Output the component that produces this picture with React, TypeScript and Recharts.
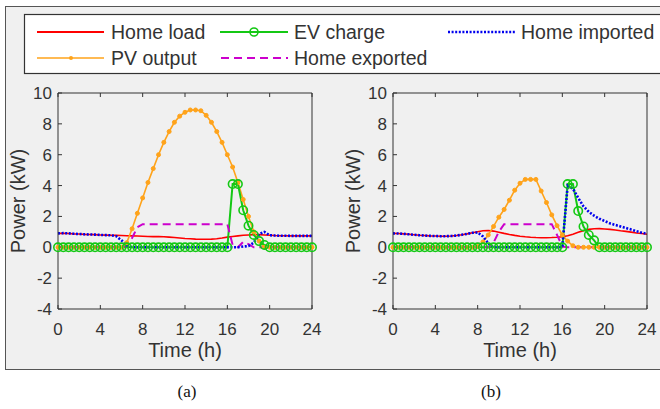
import { LineChart, Line, XAxis, YAxis } from 'recharts';

// time of day, half-hour steps
const hours = [
  0, 0.5, 1, 1.5, 2, 2.5, 3, 3.5, 4, 4.5, 5, 5.5, 6, 6.5, 7, 7.5,
  8, 8.5, 9, 9.5, 10, 10.5, 11, 11.5, 12, 12.5, 13, 13.5, 14, 14.5, 15, 15.5,
  16, 16.5, 17, 17.5, 18, 18.5, 19, 19.5, 20, 20.5, 21, 21.5, 22, 22.5, 23, 23.5, 24,
];
const timeTicks = [0, 4, 8, 12, 16, 20, 24];
const powerTicks = [-4, -2, 0, 2, 4, 6, 8, 10];

// (a)
const homeLoadA = [
  0.9, 0.9, 0.89, 0.87, 0.86, 0.84, 0.83, 0.82,
  0.8, 0.79, 0.78, 0.77, 0.76, 0.75, 0.74, 0.73,
  0.72, 0.7, 0.69, 0.69, 0.68, 0.66, 0.63, 0.6,
  0.57, 0.55, 0.53, 0.52, 0.52, 0.53, 0.55, 0.6,
  0.66, 0.7, 0.74, 0.78, 0.8, 0.82, 0.82, 0.8,
  0.78, 0.76, 0.75, 0.75, 0.74, 0.74, 0.74, 0.74,
  0.74,
];
const pvOutputA = [
  0, 0, 0, 0, 0, 0, 0, 0,
  0, 0, 0, 0, 0, 0.3, 1.2, 2.2,
  3.2, 4.2, 5.1, 6.0, 6.8, 7.5, 8.1, 8.5,
  8.75, 8.9, 8.9, 8.85, 8.55, 8.1, 7.5, 6.8,
  6.0, 5.2, 4.2, 3.1, 2.0, 1.0, 0.4, 0,
  0, 0, 0, 0, 0, 0, 0, 0,
  0,
];
const evChargeA = [
  0, 0, 0, 0, 0, 0, 0, 0,
  0, 0, 0, 0, 0, 0, 0, 0,
  0, 0, 0, 0, 0, 0, 0, 0,
  0, 0, 0, 0, 0, 0, 0, 0,
  0, 4.1, 4.1, 2.4, 1.4, 0.8, 0.4, 0.15,
  0, 0, 0, 0, 0, 0, 0, 0,
  0,
];
const homeExportedA = [
  0, 0, 0, 0, 0, 0, 0, 0,
  0, 0, 0, 0, 0, 0.05, 0.6, 1.3,
  1.5, 1.5, 1.5, 1.5, 1.5, 1.5, 1.5, 1.5,
  1.5, 1.5, 1.5, 1.5, 1.5, 1.5, 1.5, 1.5,
  1.5, 0.15, 0, 0.35, 0.2, 0, 0, 0,
  0, 0, 0, 0, 0, 0, 0, 0,
  0,
];
const homeImportedA = [
  0.9, 0.92, 0.9, 0.88, 0.86, 0.84, 0.83, 0.82,
  0.8, 0.79, 0.78, 0.72, 0.45, 0.12, 0, 0,
  0, 0, 0, 0, 0, 0, 0, 0,
  0, 0, 0, 0, 0, 0, 0, 0,
  0, 0, 0, 0.05, 0.08, 0.3, 0.85, 1.0,
  0.78, 0.76, 0.75, 0.75, 0.74, 0.74, 0.74, 0.74,
  0.74,
];

// (b)
const homeLoadB = [
  0.9, 0.89, 0.87, 0.84, 0.81, 0.78, 0.76, 0.74,
  0.73, 0.72, 0.72, 0.73, 0.76, 0.81, 0.87, 0.94,
  1.01, 1.07, 1.09, 1.05, 0.98, 0.9, 0.83, 0.77,
  0.72, 0.68, 0.65, 0.63, 0.62, 0.62, 0.63, 0.65,
  0.68, 0.75, 0.85, 0.97, 1.08, 1.16, 1.2, 1.21,
  1.19, 1.16, 1.12, 1.07, 1.03, 0.98, 0.93, 0.89,
  0.85,
];
const pvOutputB = [
  0, 0, 0, 0, 0, 0, 0, 0,
  0, 0, 0, 0, 0, 0, 0, 0,
  0.05, 0.35, 0.8, 1.35, 1.95, 2.45, 3.05, 3.7,
  4.15, 4.4, 4.4, 4.4, 3.65, 2.9, 2.1, 1.4,
  0.8, 0.4, 0.1, 0, 0, 0, 0, 0,
  0, 0, 0, 0, 0, 0, 0, 0,
  0,
];
const evChargeB = [
  0, 0, 0, 0, 0, 0, 0, 0,
  0, 0, 0, 0, 0, 0, 0, 0,
  0, 0, 0, 0, 0, 0, 0, 0,
  0, 0, 0, 0, 0, 0, 0, 0,
  0, 4.1, 4.1, 2.35, 1.35, 0.8, 0.45, 0,
  0, 0, 0, 0, 0, 0, 0, 0,
  0,
];
const homeExportedB = [
  0, 0, 0, 0, 0, 0, 0, 0,
  0, 0, 0, 0, 0, 0, 0, 0,
  0, 0, 0, 0.3, 1.0, 1.5, 1.5, 1.5,
  1.5, 1.5, 1.5, 1.5, 1.5, 1.5, 1.5, 0.8,
  0.05, 0, 0, 0, 0, 0, 0, 0,
  0, 0, 0, 0, 0, 0, 0, 0,
  0,
];
const homeImportedB = [
  0.9, 0.89, 0.87, 0.84, 0.81, 0.78, 0.76, 0.74,
  0.73, 0.72, 0.72, 0.73, 0.76, 0.81, 0.87, 0.94,
  0.96, 0.7, 0.25, 0, 0, 0, 0, 0,
  0, 0, 0, 0, 0, 0, 0, 0,
  0, 4.0, 3.8, 3.2, 2.65, 2.3, 2.05, 1.85,
  1.7, 1.55, 1.45, 1.35, 1.25, 1.15, 1.05, 0.95,
  0.88,
];

const RED = '#ff0000';
const ORANGE = '#ffa31a';
const GREEN = '#14c814';
const MAGENTA = '#cc00cc';
const BLUE = '#0000ee';
const INK = '#333333';

const blankTick = () => <g />;

function PowerPlot({ left, load, pv, ev, exported, imported }) {
  const data = hours.map((t, i) => ({
    t,
    load: load[i],
    pv: pv[i],
    ev: ev[i],
    exported: exported[i],
    imported: imported[i],
  }));

  return (
    <div style={{ position: 'absolute', left, top: 80 }}>
      <LineChart width={330} height={290} data={data} margin={{ top: 12, right: 17, bottom: 11, left: 0 }}>
        <XAxis
          dataKey="t"
          type="number"
          domain={[0, 24]}
          ticks={timeTicks}
          interval={0}
          height={50}
          stroke={INK}
          tickSize={-4}
          tickMargin={18}
          tick={{ fontSize: 17, fill: INK }}
          label={{ value: 'Time (h)', position: 'insideBottom', offset: 2, fontSize: 20, fill: INK }}
        />
        <XAxis
          xAxisId="top"
          orientation="top"
          dataKey="t"
          type="number"
          domain={[0, 24]}
          ticks={timeTicks}
          interval={0}
          height={1}
          stroke={INK}
          tickSize={-4}
          tick={blankTick}
        />
        <YAxis
          type="number"
          domain={[-4, 10]}
          ticks={powerTicks}
          interval={0}
          width={58}
          stroke={INK}
          tickSize={-4}
          tickMargin={10}
          tick={{ fontSize: 17, fill: INK }}
          label={{
            value: 'Power (kW)',
            angle: -90,
            position: 'insideLeft',
            offset: 18,
            fontSize: 20,
            fill: INK,
            style: { textAnchor: 'middle' },
          }}
        />
        <YAxis
          yAxisId="right"
          orientation="right"
          type="number"
          domain={[-4, 10]}
          ticks={powerTicks}
          interval={0}
          width={1}
          stroke={INK}
          tickSize={-4}
          tick={blankTick}
        />
        <Line type="linear" dataKey="load" stroke={RED} strokeWidth={1.6} dot={false} activeDot={false} isAnimationActive={false} />
        <Line
          type="linear"
          dataKey="pv"
          stroke={ORANGE}
          strokeWidth={1.6}
          dot={{ r: 2, fill: ORANGE, stroke: ORANGE, strokeWidth: 1 }}
          activeDot={false}
          isAnimationActive={false}
        />
        <Line
          type="linear"
          dataKey="ev"
          stroke={GREEN}
          strokeWidth={2}
          dot={{ r: 4.2, fill: 'none', stroke: GREEN, strokeWidth: 1.6 }}
          activeDot={false}
          isAnimationActive={false}
        />
        <Line
          type="linear"
          dataKey="exported"
          stroke={MAGENTA}
          strokeWidth={2}
          strokeDasharray="8 5"
          dot={false}
          activeDot={false}
          isAnimationActive={false}
        />
        <Line
          type="linear"
          dataKey="imported"
          stroke={BLUE}
          strokeWidth={2.6}
          strokeDasharray="2 1.6"
          dot={false}
          activeDot={false}
          isAnimationActive={false}
        />
      </LineChart>
    </div>
  );
}

function LegendBox() {
  const fs = 19.5;
  const row1 = 32;
  const row2 = 58;
  return (
    <svg style={{ position: 'absolute', left: 0, top: 0 }} width={660} height={80}>
      <rect x={24.5} y={14.5} width={700} height={59} fill="#ffffff" stroke="#333333" strokeWidth={1.2} />
      {/* row 1 */}
      <line x1={37} x2={104} y1={row1} y2={row1} stroke={RED} strokeWidth={2} />
      <text x={111} y={row1 + 7} fontSize={fs} fill={INK}>Home load</text>
      <line x1={220} x2={288} y1={row1} y2={row1} stroke={GREEN} strokeWidth={2} />
      <circle cx={254} cy={row1} r={4} fill="none" stroke={GREEN} strokeWidth={1.6} />
      <text x={294} y={row1 + 7} fontSize={fs} fill={INK}>EV charge</text>
      <line x1={448} x2={515} y1={row1} y2={row1} stroke={BLUE} strokeWidth={2.6} strokeDasharray="2 1.6" />
      <text x={521} y={row1 + 7} fontSize={fs} fill={INK}>Home imported</text>
      {/* row 2 */}
      <line x1={37} x2={104} y1={row2} y2={row2} stroke={ORANGE} strokeWidth={1.6} />
      <circle cx={71} cy={row2} r={2} fill={ORANGE} />
      <text x={111} y={row2 + 7} fontSize={fs} fill={INK}>PV output</text>
      <line x1={221} x2={288} y1={row2} y2={row2} stroke={MAGENTA} strokeWidth={2} strokeDasharray="8 5" />
      <text x={294} y={row2 + 7} fontSize={fs} fill={INK}>Home exported</text>
    </svg>
  );
}

export default function App() {
  return (
    <div
      style={{
        position: 'absolute',
        left: 0,
        top: 0,
        width: 660,
        height: 409,
        overflow: 'hidden',
        background: '#ffffff',
        fontFamily: '"Liberation Sans", Arial, sans-serif',
      }}
    >
      <div
        style={{
          position: 'absolute',
          left: 5,
          top: 6,
          width: 700,
          height: 364,
          background: '#f0f0f0',
          border: '1.5px solid #555555',
          boxSizing: 'border-box',
        }}
      />
      <LegendBox />
      <PowerPlot
        left={0}
        load={homeLoadA}
        pv={pvOutputA}
        ev={evChargeA}
        exported={homeExportedA}
        imported={homeImportedA}
      />
      <PowerPlot
        left={335}
        load={homeLoadB}
        pv={pvOutputB}
        ev={evChargeB}
        exported={homeExportedB}
        imported={homeImportedB}
      />
      <div style={{ position: 'absolute', left: 170, top: 382, width: 34, textAlign: 'center', fontFamily: '"Liberation Serif", serif', fontSize: 17, color: '#111' }}>
        (a)
      </div>
      <div style={{ position: 'absolute', left: 474, top: 382, width: 34, textAlign: 'center', fontFamily: '"Liberation Serif", serif', fontSize: 17, color: '#111' }}>
        (b)
      </div>
    </div>
  );
}
